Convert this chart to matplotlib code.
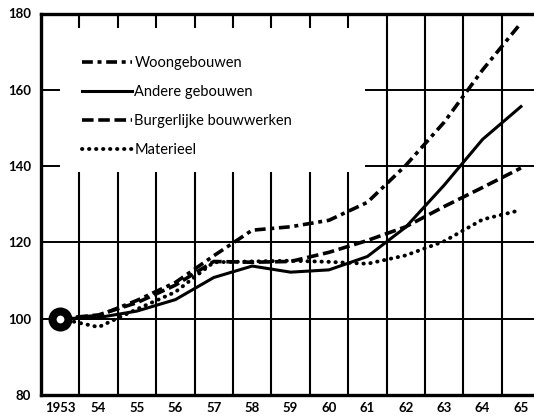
import matplotlib
matplotlib.use("Agg")
import matplotlib.pyplot as plt
from matplotlib.patches import Rectangle

# Index 1953 = 100
years = [1953, 1954, 1955, 1956, 1957, 1958, 1959, 1960, 1961, 1962, 1963, 1964, 1965]
year_labels = ["1953", "54", "55", "56", "57", "58", "59", "60", "61", "62", "63", "64", "65"]
woongebouwen = [100, 100.8, 104.8, 109.5, 116.5, 123.2, 124.1, 125.8, 130.5, 140.2, 151.5, 165.2, 177.5]
andere = [100, 100.3, 102.0, 105.0, 110.8, 113.8, 112.2, 112.8, 116.3, 124.0, 135.0, 147.0, 155.6]
burgerlijke = [100, 101.0, 104.2, 108.8, 115.0, 114.8, 115.0, 117.4, 120.5, 124.1, 129.4, 134.4, 139.5]
materieel = [100, 97.8, 102.5, 107.0, 114.8, 115.0, 115.2, 114.9, 114.4, 116.6, 120.3, 126.0, 128.5]
y_ticks = [80, 100, 120, 140, 160, 180]

font = "Lato"
lw = 2.6

fig = plt.figure(figsize=(5.34, 4.16), dpi=100)
ax = fig.add_axes([41 / 534, 21 / 416, 493 / 534, 381.5 / 416])
ax.set_xlim(1952.5, 1965.34)
ax.set_ylim(80, 180)

# grid: year boundaries and every 20 index points
for x in range(1953, 1965):
    ax.axvline(x + 0.5, color="black", lw=1.5, zorder=1)
for y in y_ticks[1:-1]:
    ax.axhline(y, color="black", lw=1.4, zorder=1)

# blank area behind the legend
ax.add_patch(Rectangle((1953, 138.5), 7.95, 37.7, facecolor="white",
                       edgecolor="none", zorder=2))

ax.plot(years, woongebouwen, color="black", lw=lw, zorder=3,
        dashes=(3.0, 1.3, 1.1, 1.3), label="Woongebouwen")
ax.plot(years, andere, color="black", lw=lw - 0.4, zorder=3,
        label="Andere gebouwen")
ax.plot(years, burgerlijke, color="black", lw=lw, zorder=3,
        dashes=(3.2, 1.3), label="Burgerlijke bouwwerken")
ax.plot(years, materieel, color="black", lw=lw + 0.2, zorder=3,
        dashes=(0.1, 1.7), dash_capstyle="round", label="Materieel")

# base year ring
ax.plot(years[0], materieel[0], marker="o", ms=11.5, mew=5.8,
        mfc="white", mec="black", zorder=5, clip_on=False)

for side in ["left", "bottom", "top"]:
    ax.spines[side].set_linewidth(2.4)
ax.spines["right"].set_visible(False)

ax.set_xticks(years)
ax.set_xticklabels(year_labels, fontfamily=font, fontweight="bold", fontsize=9.5)
ax.set_yticks(y_ticks)
ax.set_yticklabels([str(v) for v in y_ticks], fontfamily=font,
                   fontweight="bold", fontsize=9.5)
ax.tick_params(length=0, pad=5)
ax.tick_params(axis="y", pad=7)

leg = ax.legend(loc="upper left", bbox_to_anchor=(0.083, 0.888), frameon=False,
                prop={"family": font, "size": 10.5}, handlelength=3.4,
                handletextpad=0.2, labelspacing=1.02, borderpad=0,
                borderaxespad=0)
leg.set_zorder(6)

fig.savefig("out.png", dpi=100, facecolor="white")
